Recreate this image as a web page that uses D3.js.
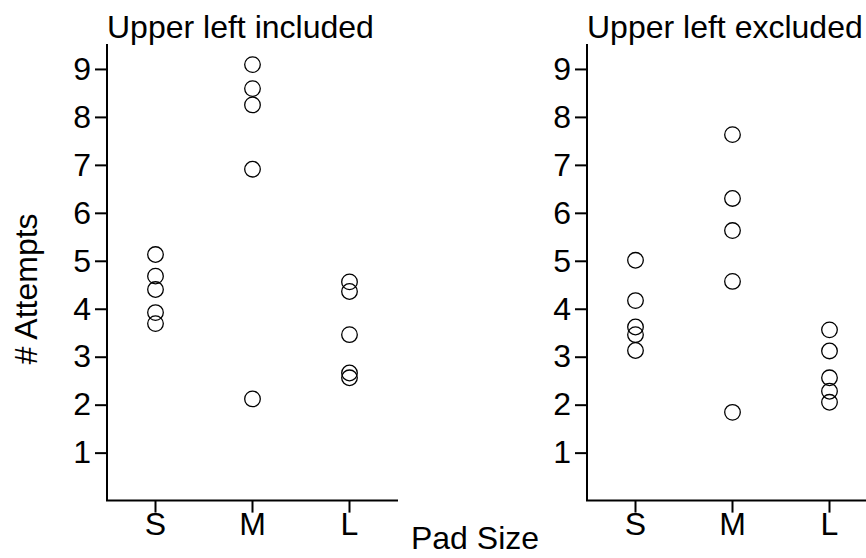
<!DOCTYPE html>
<html>
<head>
<meta charset="utf-8">
<script src="https://cdn.jsdelivr.net/npm/d3@7"></script>
<style>
  body { margin: 0; background: #fff; }
  svg { display: block; font-family: "Liberation Sans", Arial, sans-serif; }
  .axis path, .axis line { stroke: #000; stroke-width: 2px; }
  .axis text { font-size: 32px; fill: #000; font-family: "Liberation Sans", Arial, sans-serif; }
  .label { font-size: 32px; fill: #000; }
</style>
</head>
<body>
<svg id="chart" width="866" height="558"></svg>
<script>
'use strict'

// pad size categories
const padSizes = ['S', 'M', 'L']
const yTicks = [1, 2, 3, 4, 5, 6, 7, 8, 9]

// # attempts per pad size, upper left included
const includedS = [5.13, 4.68, 4.40, 3.92, 3.69]
const includedM = [9.09, 8.59, 8.25, 6.91, 2.12]
const includedL = [4.56, 4.36, 3.46, 2.66, 2.56]

// # attempts per pad size, upper left excluded
const excludedS = [5.01, 4.17, 3.62, 3.46, 3.13]
const excludedM = [7.63, 6.30, 5.63, 4.57, 1.84]
const excludedL = [3.56, 3.12, 2.56, 2.28, 2.05]

const panels = [
  {title: 'Upper left included', left: 107, values: [includedS, includedM, includedL]},
  {title: 'Upper left excluded', left: 587, values: [excludedS, excludedM, excludedL]}
]

const svg = d3.select('#chart')
const panelWidth = 291
const plotTop = 44, plotBottom = 500.6

// y scale shared by both panels
const y = d3.scaleLinear().domain([0, 9.52]).range([plotBottom, plotTop])

panels.forEach((p) => {
  const x = d3.scaleBand().domain(padSizes).range([p.left, p.left + panelWidth]).padding(0)

  // flatten to points
  const points = []
  p.values.forEach((arr, i) => arr.forEach((v) => points.push({size: padSizes[i], value: v})))

  // y axis
  svg.append('g')
    .classed('axis', true)
    .attr('transform', 'translate(' + p.left + ',0)')
    .call(d3.axisLeft(y).tickValues(yTicks).tickSize(12).tickPadding(4).tickSizeOuter(0))
    .call((g) => g.select('.domain').attr('d', 'M0,' + plotTop + 'V' + plotBottom))

  // x axis
  svg.append('g')
    .classed('axis', true)
    .attr('transform', 'translate(0,' + plotBottom + ')')
    .call(d3.axisBottom(x).tickSize(12).tickPadding(0).tickSizeOuter(0))
    .call((g) => g.select('.domain').attr('d', 'M' + (p.left - 1) + ',0H' + (p.left + panelWidth)))

  // title
  svg.append('text')
    .classed('label', true)
    .attr('x', p.left)
    .attr('y', 38)
    .text(p.title)

  // dots
  svg.append('g').selectAll('circle')
    .data(points)
    .enter().append('circle')
    .attr('cx', (d) => x(d.size) + x.bandwidth() / 2)
    .attr('cy', (d) => y(d.value))
    .attr('r', 7.8)
    .attr('fill', 'none')
    .attr('stroke', '#000')
    .attr('stroke-width', 1.3)
})

// axis titles
svg.append('text')
  .classed('label', true)
  .attr('x', 475)
  .attr('y', 549)
  .attr('text-anchor', 'middle')
  .text('Pad Size')

svg.append('text')
  .classed('label', true)
  .attr('transform', 'translate(37,289) rotate(-90)')
  .attr('text-anchor', 'middle')
  .text('# Attempts')
</script>
</body>
</html>
